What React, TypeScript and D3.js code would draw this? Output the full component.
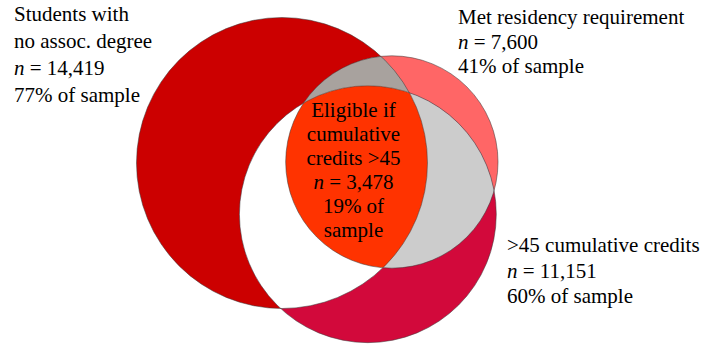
import React from "react";
import * as d3 from "d3";

// ---- data ----
const setKeys = ["noDegree", "residency", "credits"];
const setLabelLines = [
  ["Students with", "no assoc. degree"],
  ["Met residency requirement"],
  [">45 cumulative credits"],
];
const setCounts = [14419, 7600, 11151];
const setPercents = [77, 41, 60];
const setColors = ["#CC0000", "#FF6666", "#D2093B"];

const overlapColors = { ab: "#A8A29E", bc: "#CCCCCC", ac: "#FFFFFF", abc: "#FF3300" };

const centerLabelLines = ["Eligible if", "cumulative", "credits >45"];
const centerCount = 3478;
const centerPercent = 19;

// layout of circle centres in units of the largest radius (relative to first circle)
const centerU = [0, 0.755, 0.59];
const centerV = [0, -0.007, 0.352];

const W = 720;
const H = 348;

export default function App() {
  const rScale = d3.scaleSqrt().domain([0, 77]).range([0, 145.5]);
  const xScale = d3.scaleLinear().domain([0, 1]).range([282, 282 + 145.5]);
  const yScale = d3.scaleLinear().domain([0, 1]).range([163, 163 + 145.5]);
  const fmt = d3.format(",");

  const circles = setKeys.map((k, i) => ({
    key: k,
    cx: xScale(centerU[i]),
    cy: yScale(centerV[i]),
    r: rScale(setPercents[i]),
    color: setColors[i],
  }));
  const [A, B, C] = circles;

  const font = "Liberation Serif";
  const fs = 21;

  const setLabel = (i: number, x: number, y0: number, lh: number) => {
    const lines = setLabelLines[i];
    const rows: React.ReactNode[] = lines.map((l, j) => (
      <text key={j} x={x} y={y0 + j * lh} fontFamily={font} fontSize={fs}>
        {l}
      </text>
    ));
    rows.push(
      <text key="n" x={x} y={y0 + lines.length * lh} fontFamily={font} fontSize={fs}>
        <tspan fontStyle="italic">n</tspan>
        {" = " + fmt(setCounts[i])}
      </text>
    );
    rows.push(
      <text key="p" x={x} y={y0 + (lines.length + 1) * lh} fontFamily={font} fontSize={fs}>
        {setPercents[i] + "% of sample"}
      </text>
    );
    return <g>{rows}</g>;
  };

  const cx = 353.5;
  const cy0 = 117;
  const clh = 24;
  const nC = centerLabelLines.length;

  return (
    <svg width={W} height={H} style={{ position: "absolute", left: 0, top: 0 }}>
      <style>{"text { font-family: 'Liberation Serif', Tinos, 'Times New Roman', serif; }"}</style>
      <defs>
        {circles.map((c) => (
          <clipPath id={"clip-" + c.key} key={c.key}>
            <circle cx={c.cx} cy={c.cy} r={c.r} />
          </clipPath>
        ))}
      </defs>
      {circles.map((c) => (
        <circle key={c.key} cx={c.cx} cy={c.cy} r={c.r} fill={c.color} />
      ))}
      {/* A ∩ B */}
      <circle cx={B.cx} cy={B.cy} r={B.r} fill={overlapColors.ab} clipPath={"url(#clip-" + A.key + ")"} />
      {/* B ∩ C */}
      <circle cx={C.cx} cy={C.cy} r={C.r} fill={overlapColors.bc} clipPath={"url(#clip-" + B.key + ")"} />
      {/* A ∩ C */}
      <circle cx={C.cx} cy={C.cy} r={C.r} fill={overlapColors.ac} clipPath={"url(#clip-" + A.key + ")"} />
      {/* A ∩ B ∩ C */}
      <g clipPath={"url(#clip-" + B.key + ")"}>
        <circle cx={C.cx} cy={C.cy} r={C.r} fill={overlapColors.abc} clipPath={"url(#clip-" + A.key + ")"} />
      </g>
      {circles.map((c) => (
        <circle
          key={"o" + c.key}
          cx={c.cx}
          cy={c.cy}
          r={c.r}
          fill="none"
          stroke="#3a3a3a"
          strokeOpacity={0.75}
          strokeWidth={0.7}
        />
      ))}

      {setLabel(0, 14, 21, 27)}
      {setLabel(1, 458, 24, 24.5)}
      {setLabel(2, 507, 252, 25.5)}

      <g textAnchor="middle">
        {centerLabelLines.map((l, j) => (
          <text key={j} x={cx} y={cy0 + j * clh} fontFamily={font} fontSize={fs}>
            {l}
          </text>
        ))}
        <text x={cx} y={cy0 + nC * clh} fontFamily={font} fontSize={fs}>
          <tspan fontStyle="italic">n</tspan>
          {" = " + fmt(centerCount)}
        </text>
        <text x={cx} y={cy0 + (nC + 1) * clh} fontFamily={font} fontSize={fs}>
          {centerPercent + "% of"}
        </text>
        <text x={cx} y={cy0 + (nC + 2) * clh} fontFamily={font} fontSize={fs}>
          sample
        </text>
      </g>
    </svg>
  );
}
